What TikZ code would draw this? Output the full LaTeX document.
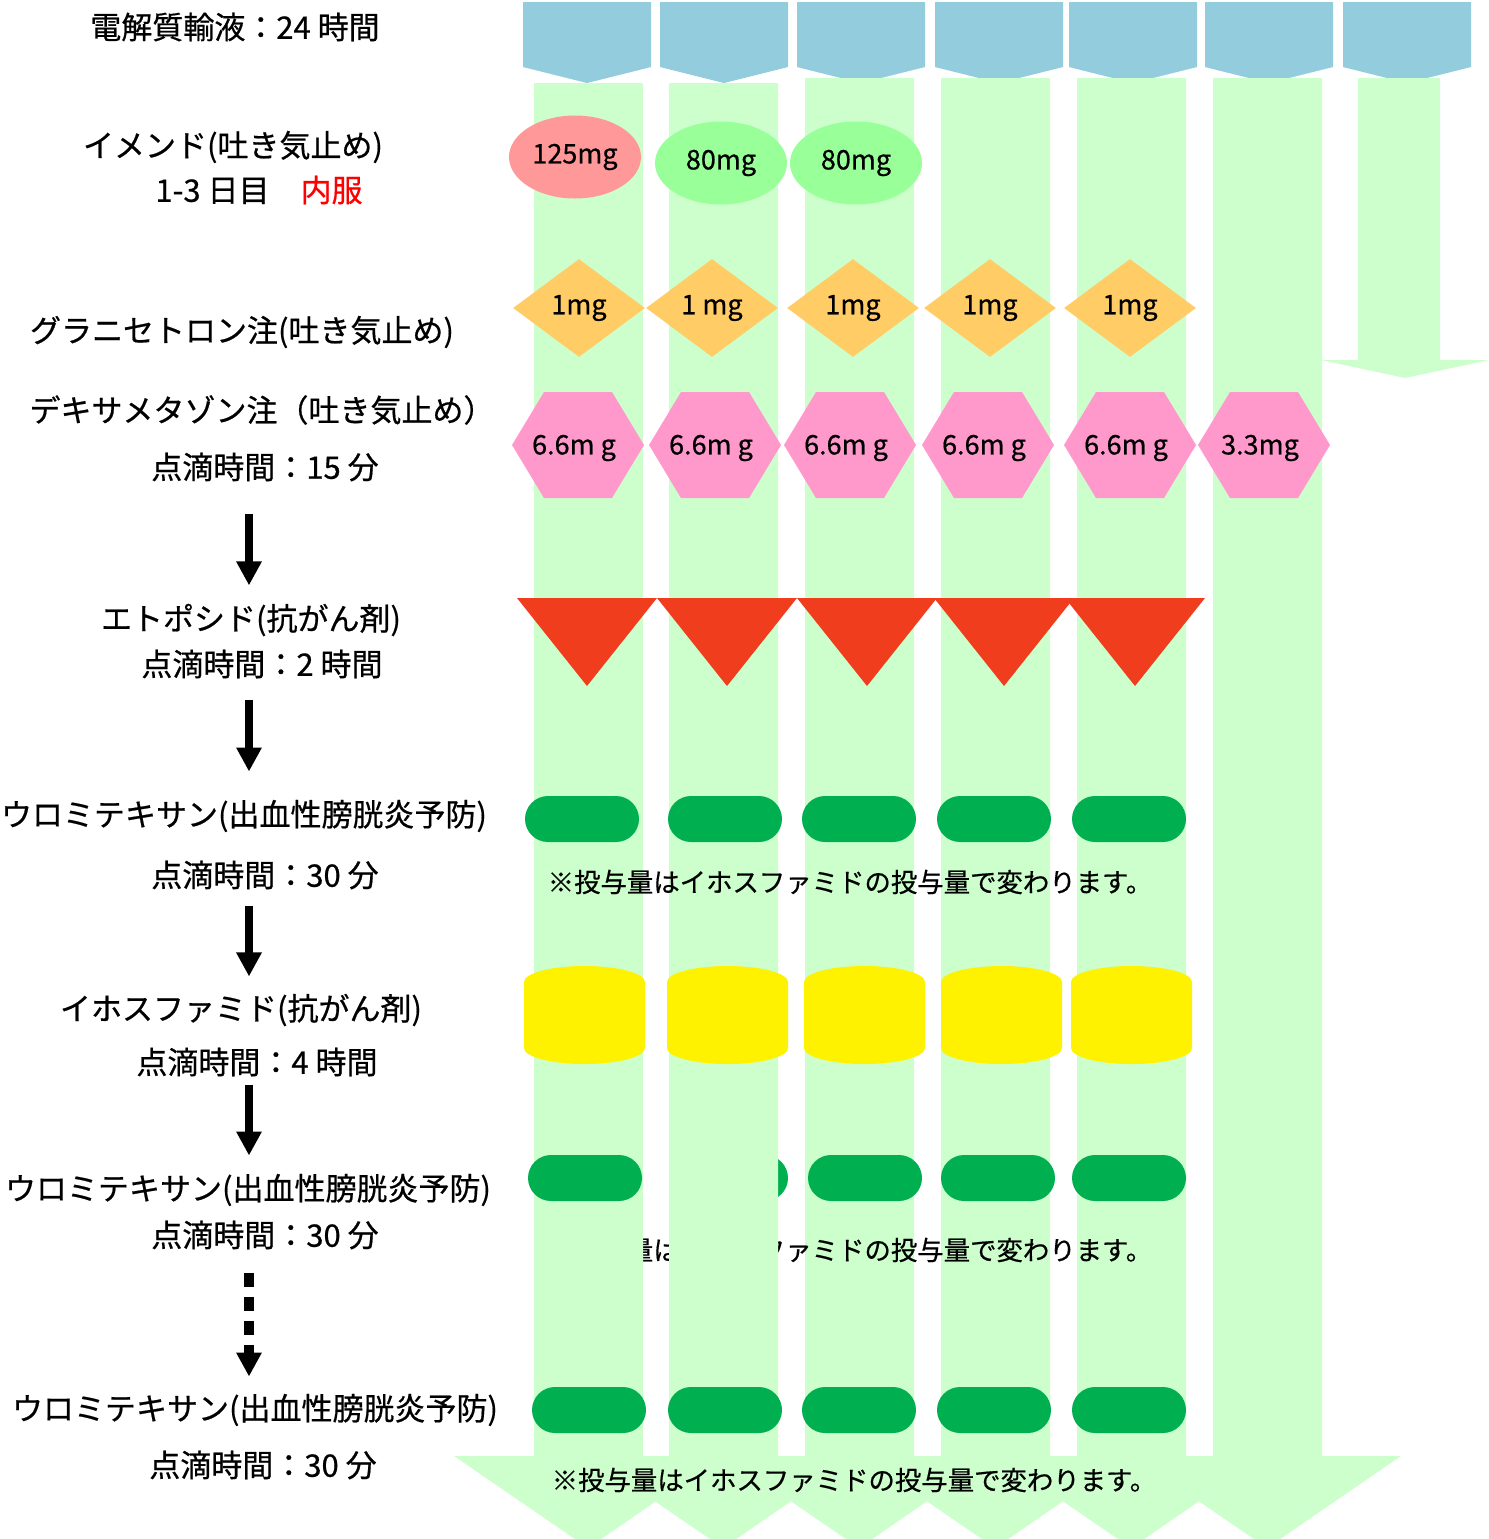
\documentclass[tikz,border=0pt]{standalone}
\usepackage{fontspec}
\setmainfont{Noto Sans CJK JP}[FakeBold=0.6]
\usepackage{xcolor}
\usepackage{tikz}
\usetikzlibrary{shapes}
\usetikzlibrary{arrows.meta}
\definecolor{stripgreen}{RGB}{204,255,204}
\definecolor{bagblue}{RGB}{147,205,221}
\definecolor{ovalpink}{RGB}{255,153,153}
\definecolor{ovalgreen}{RGB}{153,255,153}
\definecolor{gemorange}{RGB}{255,204,102}
\definecolor{hexpink}{RGB}{255,153,204}
\definecolor{trired}{RGB}{239,61,30}
\definecolor{pillgreen}{RGB}{0,176,80}
\tikzset{ drug_label/.style = {inner sep=0pt, font=\fontsize{15.5pt}{18pt}\selectfont} }
\tikzset{ dose_label/.style = {inner sep=0pt, font=\fontsize{13.5pt}{16pt}\selectfont} }
\tikzset{ note_label/.style = {inner sep=0pt, font=\fontsize{13.2pt}{16pt}\selectfont} }
\tikzset{ oval_dose/.style = {ellipse, dose_label, minimum width=66pt, minimum height=41.5pt} }
\tikzset{ gem_dose/.style = {diamond, dose_label, fill=gemorange, minimum width=66pt, minimum height=49pt} }
\tikzset{ pill_dose/.style = {rectangle, fill=pillgreen, rounded corners=11.5pt, minimum width=57pt, minimum height=23pt} }
\tikzset{ step_arrow/.style = {line width=3.75pt, -{Triangle[length=12pt, width=12pt]}} }

\begin{document}
\begin{tikzpicture}[x=0.5pt, y=-0.5pt]
    \useasboundingbox (0,0) rectangle (1489,1539);
    \clip (0,0) rectangle (1489,1539);
    \foreach \x in {523,660,797,935,1069,1205,1343}
        \fill[bagblue] (\x,2) -- (\x+128,2) -- (\x+128,67) -- (\x+64,83) -- (\x,67) -- cycle;
    \foreach \c/\t in {859/78,995/78,1131/78,1267/78}
        \fill[stripgreen] (\c-54,\t) -- (\c+55,\t) -- (\c+55,1456) -- (\c+134,1456) -- (\c,1548) -- (\c-134,1456) -- (\c-54,1456) -- cycle;
    \fill[stripgreen] (1358,78) -- (1440,78) -- (1440,360) -- (1489,360) -- (1405,378) -- (1321,360) -- (1358,360) -- cycle;
    \node[note_label] (n2) at (850,1250) {※投与量はイホスファミドの投与量で変わります。};
    \node[pill_dose] (p2b) at (731,1178) {};
    \foreach \c/\t in {588/83,723/83}
        \fill[stripgreen] (\c-54,\t) -- (\c+55,\t) -- (\c+55,1456) -- (\c+134,1456) -- (\c,1548) -- (\c-134,1456) -- (\c-54,1456) -- cycle;

    \node[oval_dose, fill=ovalpink] (ime1) at (575,157) {125mg};
    \node[oval_dose, fill=ovalgreen] (ime2) at (721,163) {80mg};
    \node[oval_dose, fill=ovalgreen] (ime3) at (856,163) {80mg};
    \foreach \x/\n/\d in {579/1/1mg,712/2/1 mg,853/3/1mg,990/4/1mg,1130/5/1mg}
        \node[gem_dose] (gra\n) at (\x,308) {\d};
    \foreach \x/\n/\d in {578/1/6.6m g,715/2/6.6m g,850/3/6.6m g,988/4/6.6m g,1130/5/6.6m g,1264/6/3.3mg} {
        \fill[hexpink] (\x-66,445) -- (\x-34,392) -- (\x+34,392) -- (\x+66,445) -- (\x+34,498) -- (\x-34,498) -- cycle;
        \node[dose_label] (dex\n) at (\x-4,448) {\d};
    }
    \foreach \x in {587,727,867,1004,1135}
        \fill[trired] (\x-70,598) -- (\x+70,598) -- (\x,686) -- cycle;
    \foreach \x/\n in {582/a,725/b,859/c,994/d,1129/e}
        \node[pill_dose] (p1\n) at (\x,819) {};
    \node[note_label] (n1) at (850,882) {※投与量はイホスファミドの投与量で変わります。};
    \foreach \x in {524,667,804,941,1071}
        \fill[yellow] (\x,982) -- (\x,1048) arc[start angle=180, end angle=360, x radius=30.25pt, y radius=8pt]
            -- (\x+121,982) arc[start angle=0, end angle=180, x radius=30.25pt, y radius=8pt] -- cycle;
    \foreach \x/\n in {585/a,865/c,998/d,1129/e}
        \node[pill_dose] (p2\n) at (\x,1178) {};
    \foreach \x/\n in {589/a,725/b,859/c,994/d,1129/e}
        \node[pill_dose] (p3\n) at (\x,1410) {};
    \node[note_label] (n3) at (854,1480) {※投与量はイホスファミドの投与量で変わります。};

    \node[drug_label] (elec) at (235,27) {電解質輸液：24 時間};
    \node[drug_label] (ime) at (233,147) {イメンド(吐き気止め)};
    \node[drug_label] (ime_d) at (259,190) {1-3 日目　\textcolor{red}{内服}};
    \node[drug_label] (gra) at (242,332) {グラニセトロン注(吐き気止め)};
    \node[drug_label] (dex) at (262,410) {デキサメタゾン注（吐き気止め）};
    \node[drug_label] (dex_t) at (265,467) {点滴時間：15 分};
    \node[drug_label] (eto) at (251,620) {エトポシド(抗がん剤)};
    \node[drug_label] (eto_t) at (262,664) {点滴時間：2 時間};
    \node[drug_label] (uro1) at (244,816) {ウロミテキサン(出血性膀胱炎予防)};
    \node[drug_label] (uro1_t) at (265,875) {点滴時間：30 分};
    \node[drug_label] (ifo) at (241,1010) {イホスファミド(抗がん剤)};
    \node[drug_label] (ifo_t) at (257,1062) {点滴時間：4 時間};
    \node[drug_label] (uro2) at (248,1190) {ウロミテキサン(出血性膀胱炎予防)};
    \node[drug_label] (uro2_t) at (265,1235) {点滴時間：30 分};
    \node[drug_label] (uro3) at (255,1410) {ウロミテキサン(出血性膀胱炎予防)};
    \node[drug_label] (uro3_t) at (263,1465) {点滴時間：30 分};

    \coordinate (ax) at (249,0);
    \draw[step_arrow, shorten <=16pt, shorten >=9pt] (dex_t.south -| ax) -- (eto.north -| ax);
    \draw[step_arrow, shorten <=10.5pt, shorten >=14pt] (eto_t.south -| ax) -- (uro1.north -| ax);
    \draw[step_arrow, shorten <=8pt, shorten >=8.5pt] (uro1_t.south -| ax) -- (ifo.north -| ax);
    \draw[step_arrow, shorten <=4pt, shorten >=9pt] (ifo_t.south -| ax) -- (uro2.north -| ax);
    \draw[step_arrow, line width=5pt, dash pattern=on 7pt off 5pt, shorten <=11.5pt, shorten >=8.5pt] (uro2_t.south -| ax) -- (uro3.north -| ax);
\end{tikzpicture}
\end{document}
